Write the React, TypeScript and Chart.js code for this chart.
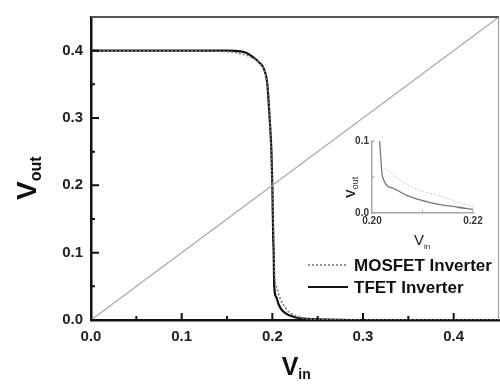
import React, { useEffect, useRef } from "react";
import { Chart, registerables } from "chart.js";

Chart.register(...registerables);

// ---------- data ----------
const xTickValues = [0, 0.1, 0.2, 0.3, 0.4];
const yTickValues = [0, 0.1, 0.2, 0.3, 0.4];
const xMinorValues = [0.05, 0.15, 0.25, 0.35];
const yMinorValues = [0.05, 0.15, 0.25, 0.35];

const diagVin = [0, 0.45];
const diagVout = [0, 0.45];

const tfetVin = [0, 0.05, 0.1, 0.15, 0.165, 0.171, 0.178, 0.185, 0.191, 0.1945, 0.197, 0.199, 0.2, 0.201, 0.2015, 0.2021, 0.2043, 0.207, 0.211, 0.217, 0.225, 0.235, 0.25, 0.3, 0.35, 0.4, 0.45];
const tfetVout = [0.4, 0.4, 0.4, 0.4, 0.399, 0.397, 0.391, 0.383, 0.372, 0.35, 0.3, 0.25, 0.2, 0.12, 0.1, 0.05, 0.034, 0.023, 0.014, 0.008, 0.004, 0.002, 0.001, 0, 0, 0, 0];

const mosVin = [0, 0.05, 0.1, 0.14, 0.155, 0.164, 0.175, 0.186, 0.193, 0.196, 0.198, 0.2, 0.2015, 0.2026, 0.205, 0.207, 0.21, 0.215, 0.22, 0.226, 0.233, 0.242, 0.255, 0.3, 0.35, 0.4, 0.45];
const mosVout = [0.4, 0.4, 0.4, 0.399, 0.398, 0.396, 0.391, 0.381, 0.362, 0.33, 0.27, 0.2, 0.12, 0.065, 0.048, 0.038, 0.028, 0.017, 0.01, 0.006, 0.003, 0.0015, 0.0005, 0, 0, 0, 0];

const insetXTicks = [0.2, 0.22];
const insetYTicks = [0, 0.1];
const insetXMinor = [0.21];
const insetYMinor = [0.05];
const insetTfetVin = [0.2015, 0.2021, 0.2043, 0.207, 0.2115, 0.217, 0.22];
const insetTfetVout = [0.1, 0.05, 0.034, 0.024, 0.0145, 0.008, 0.005];
const insetMosVin = [0.2026, 0.205, 0.207, 0.21, 0.2129, 0.217, 0.22];
const insetMosVout = [0.062, 0.048, 0.039, 0.03, 0.025, 0.015, 0.009];

const seriesLabels = ["MOSFET Inverter", "TFET Inverter"];

// ---------- helpers ----------
const FONT = "'Liberation Sans', Arial, Helvetica, sans-serif";
const pts = (xs: number[], ys: number[]) => xs.map((x, i) => ({ x, y: ys[i] }));

const mainDecor = {
  id: "mainDecor",
  afterDraw(chart: any) {
    const { ctx, chartArea: a, scales } = chart;
    const xs = scales.x;
    const ys = scales.y;
    ctx.save();
    // top & right frame
    ctx.strokeStyle = "#555";
    ctx.lineWidth = 2;
    ctx.beginPath();
    ctx.moveTo(a.left, a.top);
    ctx.lineTo(a.right, a.top);
    ctx.stroke();
    ctx.strokeStyle = "#999";
    ctx.lineWidth = 1;
    ctx.beginPath();
    ctx.moveTo(a.right - 0.5, a.top);
    ctx.lineTo(a.right - 0.5, a.bottom);
    ctx.stroke();

    // inward ticks
    ctx.strokeStyle = "#111";
    ctx.lineWidth = 2;
    ctx.beginPath();
    xTickValues.forEach((v) => {
      const p = xs.getPixelForValue(v);
      ctx.moveTo(p, a.bottom);
      ctx.lineTo(p, a.bottom - 7);
    });
    xMinorValues.forEach((v) => {
      const p = xs.getPixelForValue(v);
      ctx.moveTo(p, a.bottom);
      ctx.lineTo(p, a.bottom - 4);
    });
    yTickValues.forEach((v) => {
      const p = ys.getPixelForValue(v);
      ctx.moveTo(a.left, p);
      ctx.lineTo(a.left + 8, p);
    });
    yMinorValues.forEach((v) => {
      const p = ys.getPixelForValue(v);
      ctx.moveTo(a.left, p);
      ctx.lineTo(a.left + 4, p);
    });
    ctx.stroke();

    // axis titles
    ctx.fillStyle = "#111";
    ctx.textAlign = "left";
    ctx.textBaseline = "alphabetic";
    ctx.font = `bold 25px ${FONT}`;
    const vw = ctx.measureText("V").width;
    ctx.fillText("V", 290 - vw / 2, 375);
    ctx.font = `bold 14px ${FONT}`;
    ctx.fillText("in", 290 + vw / 2, 379);

    ctx.save();
    ctx.translate(36, 200);
    ctx.rotate(-Math.PI / 2);
    ctx.font = `bold 28px ${FONT}`;
    const vw2 = ctx.measureText("V").width;
    ctx.fillText("V", 0, 0);
    ctx.font = `bold 16px ${FONT}`;
    ctx.fillText("out", vw2, 5);
    ctx.restore();

    // legend
    const ds = chart.data.datasets;
    const rows = [
      { d: ds[1], y: 265 },
      { d: ds[2], y: 287 },
    ];
    rows.forEach((r) => {
      ctx.save();
      ctx.strokeStyle = r.d.borderColor;
      ctx.lineWidth = r.d.borderWidth;
      ctx.setLineDash(r.d.borderDash || []);
      ctx.beginPath();
      ctx.moveTo(308, r.y);
      ctx.lineTo(348, r.y);
      ctx.stroke();
      ctx.restore();
      ctx.fillStyle = "#111";
      ctx.font = `bold 17px ${FONT}`;
      ctx.textBaseline = "middle";
      ctx.fillText(r.d.label, 354, r.y + 1);
    });
    ctx.restore();
  },
};

const insetDecor = {
  id: "insetDecor",
  afterDraw(chart: any) {
    const { ctx, chartArea: a, scales } = chart;
    const xs = scales.x;
    const ys = scales.y;
    ctx.save();
    ctx.strokeStyle = "#aaa";
    ctx.lineWidth = 1;
    ctx.beginPath();
    [...insetXTicks, ...insetXMinor].forEach((v) => {
      const p = xs.getPixelForValue(v);
      ctx.moveTo(p, a.bottom);
      ctx.lineTo(p, a.bottom - 3);
    });
    [...insetYTicks, ...insetYMinor].forEach((v) => {
      const p = ys.getPixelForValue(v);
      ctx.moveTo(a.left, p);
      ctx.lineTo(a.left + 3, p);
    });
    ctx.stroke();

    ctx.fillStyle = "#222";
    ctx.textAlign = "left";
    ctx.textBaseline = "alphabetic";
    // x title
    ctx.font = `15px ${FONT}`;
    const vw = ctx.measureText("V").width;
    ctx.fillText("V", 89 - vw / 2, 120);
    ctx.font = `8px ${FONT}`;
    ctx.fillText("in", 89 + vw / 2, 124);
    // y title
    ctx.save();
    ctx.translate(25, 73);
    ctx.rotate(-Math.PI / 2);
    ctx.font = `bold 13px ${FONT}`;
    const vw2 = ctx.measureText("V").width;
    ctx.fillText("V", 0, 0);
    ctx.font = `9px ${FONT}`;
    ctx.fillText("out", vw2, 3);
    ctx.restore();
    ctx.restore();
  },
};

export default function App() {
  const mainRef = useRef<HTMLCanvasElement>(null);
  const insetRef = useRef<HTMLCanvasElement>(null);

  useEffect(() => {
    const tickFont = { family: FONT, size: 15, weight: "bold" as const };
    const main = new Chart(mainRef.current!, {
      type: "scatter",
      data: {
        datasets: [
          {
            label: "diagonal",
            data: pts(diagVin, diagVout),
            showLine: true,
            borderColor: "#a9a9a9",
            borderWidth: 1.3,
            pointRadius: 0,
          },
          {
            label: seriesLabels[0],
            data: pts(mosVin, mosVout),
            showLine: true,
            borderColor: "#777",
            borderWidth: 1.6,
            borderDash: [2, 2],
            pointRadius: 0,
            cubicInterpolationMode: "monotone",
          },
          {
            label: seriesLabels[1],
            data: pts(tfetVin, tfetVout),
            showLine: true,
            borderColor: "#111",
            borderWidth: 2.2,
            pointRadius: 0,
            cubicInterpolationMode: "monotone",
          },
        ],
      },
      options: {
        animation: false,
        responsive: false,
        events: [],
        layout: { padding: { top: 6, right: 1, left: 0, bottom: 0 } },
        plugins: { legend: { display: false }, tooltip: { enabled: false } },
        scales: {
          x: {
            type: "linear",
            min: 0,
            max: 0.45,
            afterBuildTicks: (s: any) => {
              s.ticks = xTickValues.map((v) => ({ value: v }));
            },
            afterFit: (s: any) => {
              s.height = 67;
            },
            grid: { display: false, drawTicks: false },
            border: { display: true, color: "#111", width: 2.5 },
            ticks: {
              padding: 8,
              font: tickFont,
              color: "#222",
              maxRotation: 0,
              autoSkip: false,
              callback: (v: any) => Number(v).toFixed(1),
            },
          },
          y: {
            type: "linear",
            min: 0,
            max: 0.45,
            afterBuildTicks: (s: any) => {
              s.ticks = yTickValues.map((v) => ({ value: v }));
            },
            afterFit: (s: any) => {
              s.width = 91;
            },
            grid: { display: false, drawTicks: false },
            border: { display: true, color: "#111", width: 2.5 },
            ticks: {
              padding: 8,
              font: tickFont,
              color: "#222",
              autoSkip: false,
              callback: (v: any) => Number(v).toFixed(1),
            },
          },
        },
      },
      plugins: [mainDecor],
    } as any);

    const insetFont = { family: FONT, size: 10, weight: "bold" as const };
    const inset = new Chart(insetRef.current!, {
      type: "scatter",
      data: {
        datasets: [
          {
            label: seriesLabels[0],
            data: pts(insetMosVin, insetMosVout),
            showLine: true,
            borderColor: "#c8c8c8",
            borderWidth: 1,
            borderDash: [2, 2],
            pointRadius: 0,
            cubicInterpolationMode: "monotone",
          },
          {
            label: seriesLabels[1],
            data: pts(insetTfetVin, insetTfetVout),
            showLine: true,
            borderColor: "#777",
            borderWidth: 1.3,
            pointRadius: 0,
            cubicInterpolationMode: "monotone",
          },
        ],
      },
      options: {
        animation: false,
        responsive: false,
        events: [],
        layout: { padding: { top: 16, right: 22, left: 0, bottom: 0 } },
        plugins: { legend: { display: false }, tooltip: { enabled: false } },
        scales: {
          x: {
            type: "linear",
            min: 0.2,
            max: 0.22,
            afterBuildTicks: (s: any) => {
              s.ticks = insetXTicks.map((v) => ({ value: v }));
            },
            afterFit: (s: any) => {
              s.height = 37;
            },
            grid: { display: false, drawTicks: false },
            border: { display: true, color: "#aaa", width: 1.5 },
            ticks: {
              padding: 2,
              font: insetFont,
              color: "#333",
              maxRotation: 0,
              autoSkip: false,
              callback: (v: any) => Number(v).toFixed(2),
            },
          },
          y: {
            type: "linear",
            min: 0,
            max: 0.1,
            afterBuildTicks: (s: any) => {
              s.ticks = insetYTicks.map((v) => ({ value: v }));
            },
            afterFit: (s: any) => {
              s.width = 42;
            },
            grid: { display: false, drawTicks: false },
            border: { display: true, color: "#aaa", width: 1.5 },
            ticks: {
              padding: 3,
              font: insetFont,
              color: "#333",
              autoSkip: false,
              callback: (v: any) => Number(v).toFixed(1),
            },
          },
        },
      },
      plugins: [insetDecor],
    } as any);

    return () => {
      main.destroy();
      inset.destroy();
    };
  }, []);

  return (
    <div style={{ position: "absolute", left: 0, top: 0, width: 500, height: 387, background: "#fff" }}>
      <canvas ref={mainRef} width={500} height={387} style={{ position: "absolute", left: 0, top: 0, display: "block" }} />
      <canvas ref={insetRef} width={165} height={125} style={{ position: "absolute", left: 330, top: 125, display: "block" }} />
    </div>
  );
}
